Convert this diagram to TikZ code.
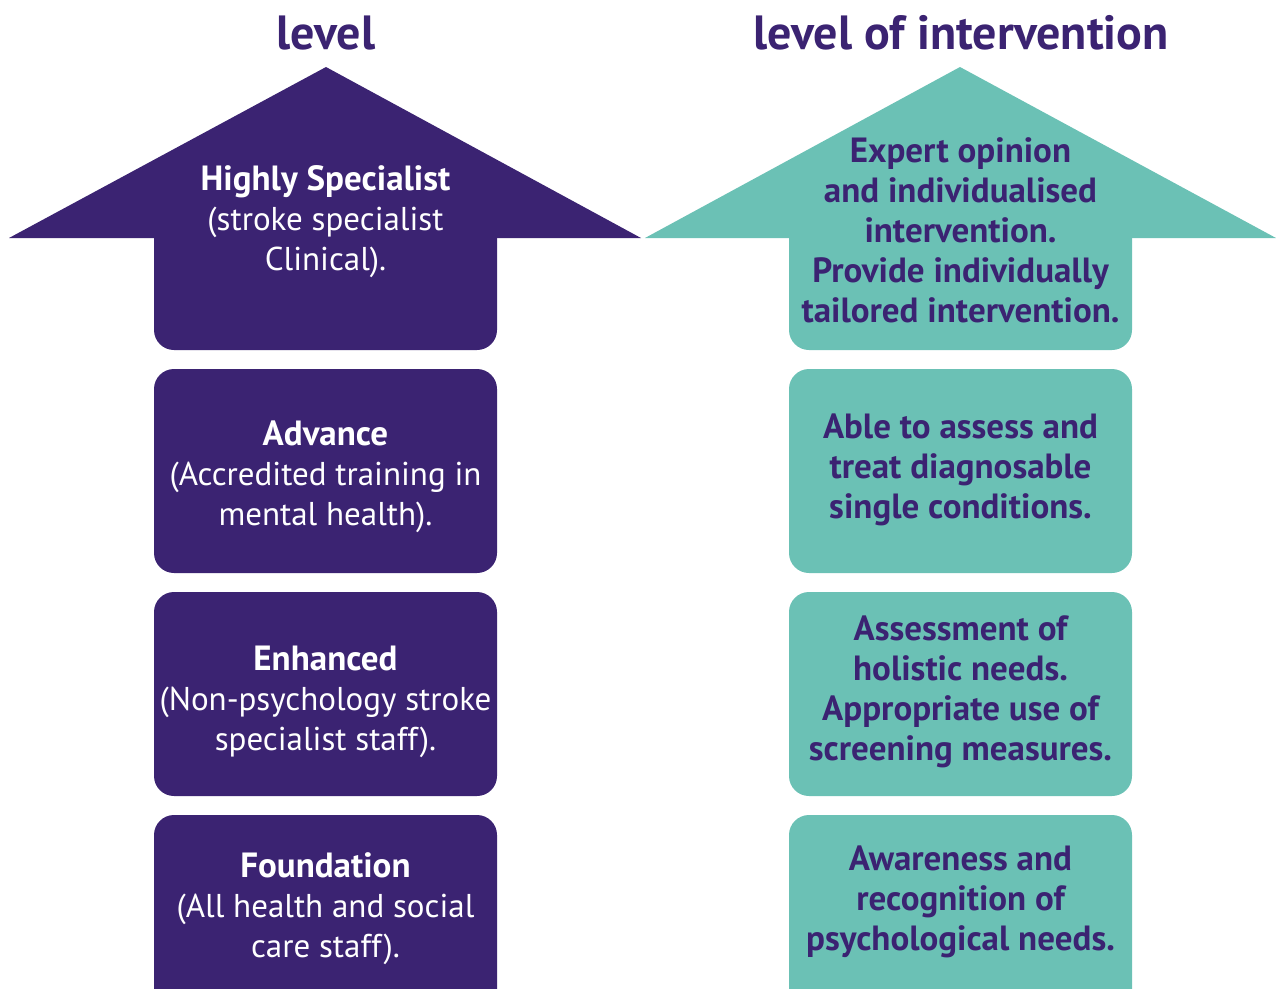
\documentclass[tikz,border=0pt]{standalone}
\usepackage{fontspec}
\setmainfont{PT Sans}
\definecolor{deeppurple}{HTML}{3B2372}
\definecolor{seateal}{HTML}{6BC1B5}
\newcommand{\tiername}[1]{{\bfseries\fontsize{35}{40}\selectfont #1}}
\begin{document}
\begin{tikzpicture}[x=1pt,y=-1pt,
  head/.style={fill=#1},
  shaft/.style={fill=#1,rounded corners=20pt},
  tier/.style={fill=#1,rounded corners=20pt},
  title/.style={text=deeppurple,font=\bfseries\fontsize{48}{54}\selectfont,anchor=base},
  lefttext/.style={text=white,align=center,font=\fontsize{33}{40}\selectfont},
  righttext/.style={text=deeppurple,align=center,font=\bfseries\fontsize{35}{40}\selectfont}]
\useasboundingbox (0,0) rectangle (1276,988);
\clip (0,0) rectangle (1276,988);

% column headings
\node[title] (tl) at (326,49) {level};
\node[title] (tr) at (961,49) {level of intervention};

% left column: arrow head and shaft
\fill[head=deeppurple] (9,238) -- (326,67) -- (641,238) -- cycle;
\fill[shaft=deeppurple] (154,200) rectangle (497,350);
% right column: arrow head and shaft
\fill[head=seateal] (645,238) -- (960,67) -- (1276,238) -- cycle;
\fill[shaft=seateal] (789,200) rectangle (1132,350);

% lower tiers
\fill[tier=deeppurple] (154,369) rectangle (497,573);
\fill[tier=deeppurple] (154,592) rectangle (497,796);
\fill[tier=deeppurple] (154,815) rectangle (497,1010);
\fill[tier=seateal] (789,369) rectangle (1132,573);
\fill[tier=seateal] (789,592) rectangle (1132,796);
\fill[tier=seateal] (789,815) rectangle (1132,1010);

% left texts
\node[lefttext] (l1) at (325.5,222) {\tiername{Highly Specialist}\\(stroke specialist\\Clinical).};
\node[lefttext] (l2) at (325.5,477) {\tiername{Advance}\\(Accredited training in\\mental health).};
\node[lefttext] (l3) at (325.5,702) {\tiername{Enhanced}\\(Non-psychology stroke\\specialist staff).};
\node[lefttext] (l4) at (325.5,909) {\tiername{Foundation}\\(All health and social\\care staff).};

% right texts
\node[righttext] (r1) at (960.5,230) {Expert opinion\\and individualised\\intervention.\\Provide individually\\tailored intervention.};
\node[righttext] (r2) at (960.5,470) {Able to assess and\\treat diagnosable\\single conditions.};
\node[righttext] (r3) at (960.5,692) {Assessment of\\holistic needs.\\Appropriate use of\\screening measures.};
\node[righttext] (r4) at (960.5,902) {Awareness and\\recognition of\\psychological needs.};
\end{tikzpicture}
\end{document}
